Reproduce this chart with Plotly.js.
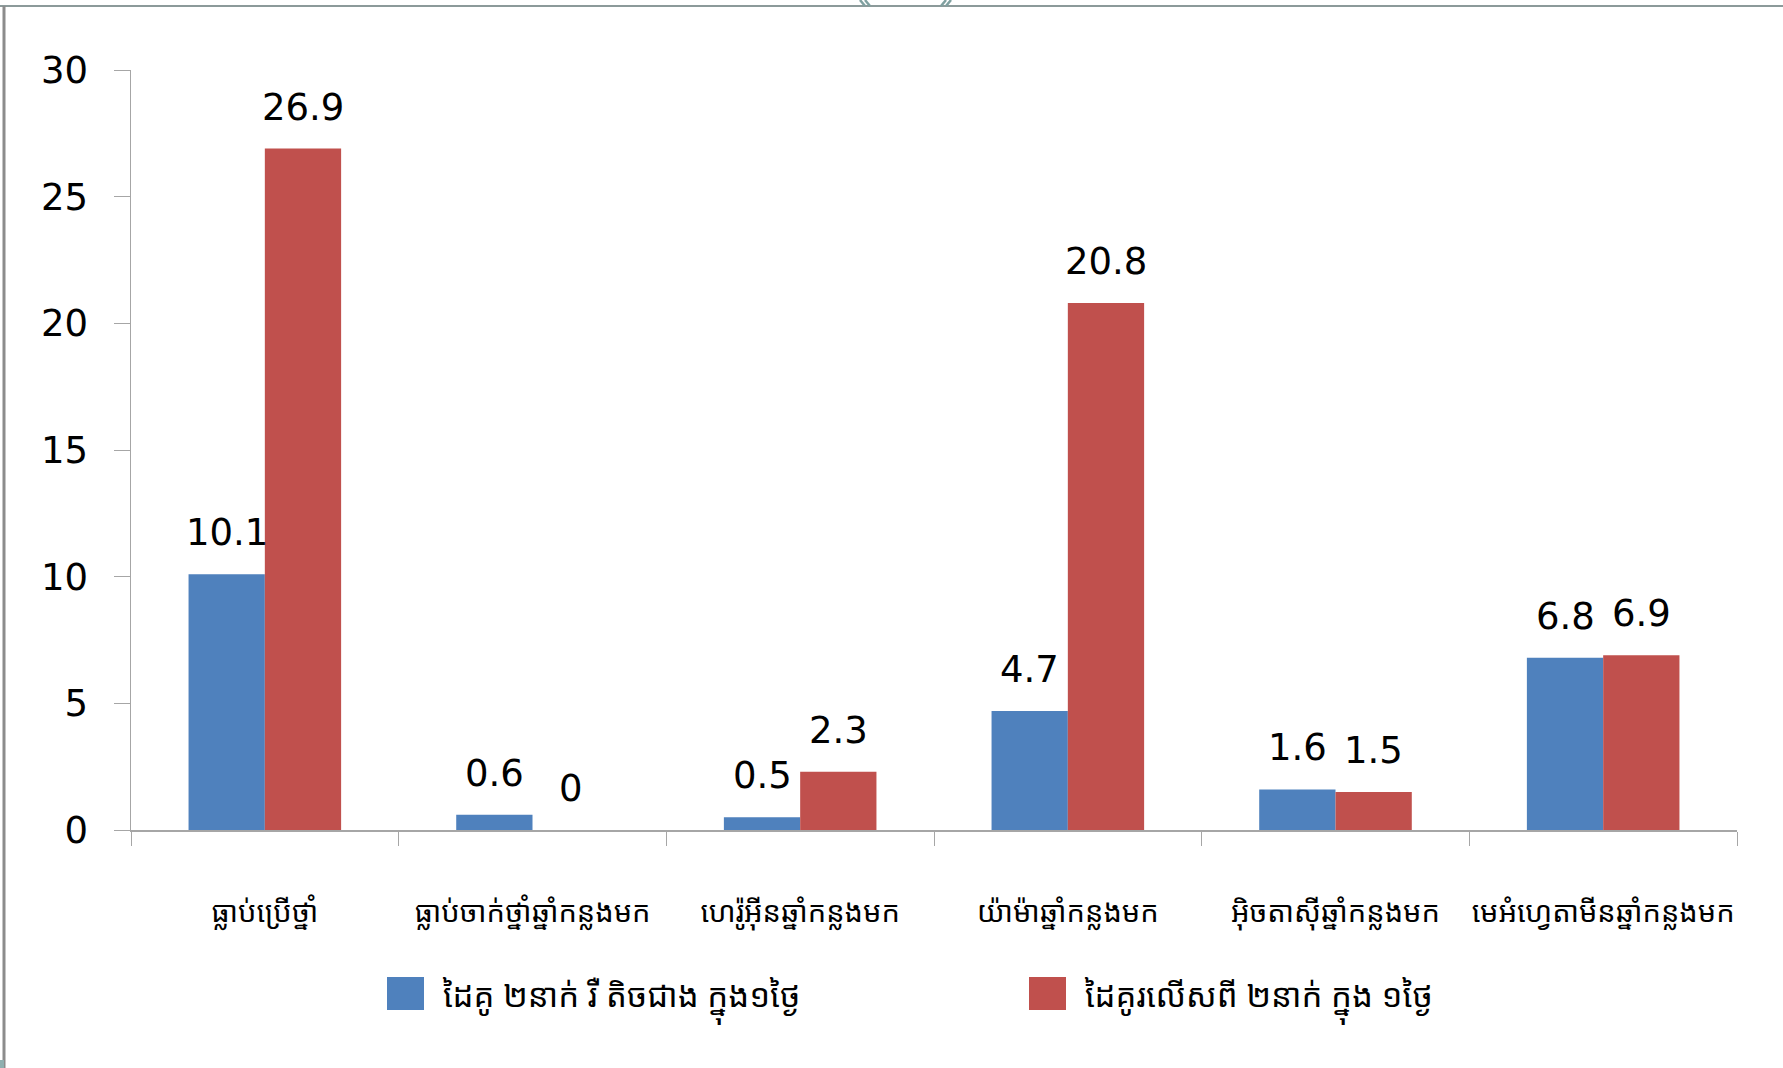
<!DOCTYPE html>
<html>
<head>
<meta charset="utf-8">
<script src="https://cdn.plot.ly/plotly-3.0.1.min.js"></script>
<style>html,body{margin:0;padding:0;background:#fff;}#chart{width:1783px;height:1068px;}</style>
</head>
<body>
<div id="chart"></div>
<script>
const categories = [
  "ធ្លាប់ប្រើថ្នាំ",
  "ធ្លាប់ចាក់ថ្នាំឆ្នាំកន្លងមក",
  "ហេរ៉ូអ៊ីនឆ្នាំកន្លងមក",
  "យ៉ាម៉ាឆ្នាំកន្លងមក",
  "អ៊ិចតាស៊ីឆ្នាំកន្លងមក",
  "មេអំហ្វេតាមីនឆ្នាំកន្លងមក"
];
const seriesNames = [
  "ដៃគូ ២នាក់ រឺ តិចជាង ក្នុង១ថ្ងៃ",
  "ដៃគូរលើសពី ២នាក់ ក្នុង ១ថ្ងៃ"
];
const twoOrFewer = [10.1, 0.6, 0.5, 4.7, 1.6, 6.8];
const moreThanTwo = [26.9, 0, 2.3, 20.8, 1.5, 6.9];
const seriesColors = ["#4F81BD", "#C0504D"];
const yTicks = [0, 5, 10, 15, 20, 25, 30];

const W = 1783, H = 1068;
const M = {l: 131, r: 46, t: 70, b: 238};
const PW = W - M.l - M.r, PH = H - M.t - M.b;
const px = v => (v - M.l) / PW;        // page x -> paper x
const py = v => (H - M.b - v) / PH;    // page y -> paper y

const numFont = {family: "DejaVu Sans, Verdana, sans-serif", size: 37, color: "#000"};
const khmerFont = "Noto Sans Khmer, Khmer OS, Noto Sans, DejaVu Sans, sans-serif";

const allSeries = [twoOrFewer, moreThanTwo];
const traces = allSeries.map((vals, i) => ({
  type: "bar", name: seriesNames[i], x: categories, y: vals,
  marker: {color: seriesColors[i]}, showlegend: false, hoverinfo: "x+y"
}));

const bargap = 0.43;
const barPx = PW / categories.length * (1 - bargap) / 2;

// data labels drawn from the series arrays
const annotations = [];
allSeries.forEach((vals, i) => {
  vals.forEach((v, j) => {
    annotations.push({
      x: categories[j], y: v, xref: "x", yref: "y",
      xshift: (i === 0 ? -1 : 1) * barPx / 2, yshift: 18,
      yanchor: "bottom", showarrow: false,
      text: String(v), font: numFont
    });
  });
});

// legend (custom: large squares like the reference)
const legendX = [387, 1029];
seriesNames.forEach((name, i) => {
  annotations.push({
    xref: "paper", yref: "paper", x: px(legendX[i] + 54), y: py(998),
    xanchor: "left", yanchor: "middle", showarrow: false,
    text: name, font: {family: khmerFont, size: 33, color: "#000"}
  });
});

const shapes = [
  {type: "line", xref: "paper", yref: "paper", x0: px(0), x1: px(W), y0: py(6), y1: py(6),
   line: {color: "#8c9a9a", width: 2}},
  {type: "line", xref: "paper", yref: "paper", x0: px(4), x1: px(4), y0: py(6), y1: py(H),
   line: {color: "#8c8c8c", width: 3}},
  {type: "rect", xref: "paper", yref: "paper", x0: px(0), x1: px(4), y0: py(1060), y1: py(H),
   fillcolor: "#8fb0b0", line: {width: 0}},
  // decorative ring fragments at top
  {type: "line", xref: "paper", yref: "paper", x0: px(860), x1: px(865), y0: py(0), y1: py(6),
   line: {color: "#7fa0a0", width: 2.5}},
  {type: "line", xref: "paper", yref: "paper", x0: px(865), x1: px(870), y0: py(0), y1: py(6),
   line: {color: "#7fa0a0", width: 2.5}},
  {type: "line", xref: "paper", yref: "paper", x0: px(946), x1: px(941), y0: py(0), y1: py(6),
   line: {color: "#7fa0a0", width: 2.5}},
  {type: "line", xref: "paper", yref: "paper", x0: px(951), x1: px(946), y0: py(0), y1: py(6),
   line: {color: "#7fa0a0", width: 2.5}}
];
legendX.forEach((x0, i) => {
  shapes.push({type: "rect", xref: "paper", yref: "paper",
    x0: px(x0), x1: px(x0 + 37), y0: py(977), y1: py(1010),
    fillcolor: seriesColors[i], line: {width: 0}});
});

const layout = {
  width: W, height: H,
  paper_bgcolor: "#fff", plot_bgcolor: "#fff",
  margin: M,
  barmode: "group", bargap: bargap, bargroupgap: 0,
  showlegend: false,
  xaxis: {type: "category", showline: true, linecolor: "#a6a6a6", linewidth: 1.5,
          ticks: "outside", tickson: "boundaries", ticklen: 14, tickcolor: "#a6a6a6",
          showgrid: false, zeroline: false, ticklabelstandoff: 56, tickangle: 0,
          tickfont: {family: khmerFont, size: 29, color: "#000"}},
  yaxis: {range: [0, 30], tickvals: yTicks, ticktext: yTicks.map(String),
          showline: true, linecolor: "#a6a6a6", linewidth: 1.5,
          ticks: "outside", ticklen: 16, tickcolor: "#a6a6a6",
          showgrid: false, zeroline: false, ticklabelstandoff: 18,
          tickfont: numFont},
  annotations: annotations,
  shapes: shapes
};

Plotly.newPlot("chart", traces, layout, {displayModeBar: false, staticPlot: true});
</script>
</body>
</html>
